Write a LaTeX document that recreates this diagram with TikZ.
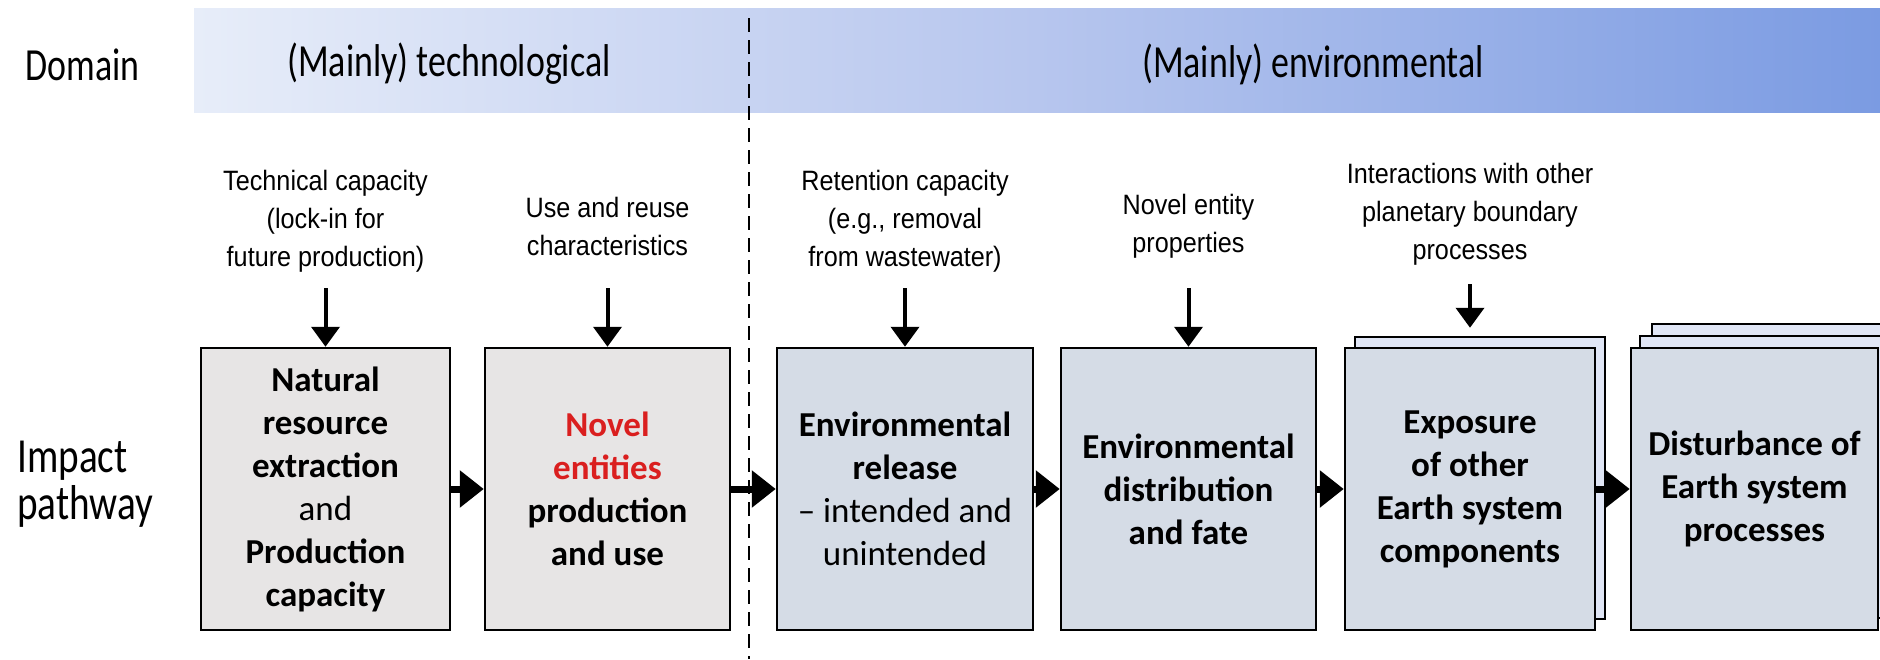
\documentclass[tikz,border=0pt]{standalone}
\usepackage{fontspec}
\setmainfont{Carlito}
\newfontfamily\domfont[FakeStretch=0.78]{Carlito}
\newfontfamily\impfont[FakeStretch=0.80]{Carlito}
\newfontfamily\lblfont[FakeStretch=0.9]{Liberation Sans}
\usetikzlibrary{arrows.meta}
\definecolor{grayfill}{HTML}{E7E5E5}
\definecolor{bluefill}{HTML}{D5DCE6}
\definecolor{backfill}{HTML}{E0E6F6}
\definecolor{bandL}{HTML}{E7EDF9}
\definecolor{bandM}{HTML}{B7C6EE}
\definecolor{bandR}{HTML}{7B9BE2}
\definecolor{novelred}{HTML}{DA1F1F}
\begin{document}
\begin{tikzpicture}[x=0.5pt,y=-0.5pt,
  box/.style={draw=black, line width=1.25pt, minimum height=141pt, inner sep=0pt, align=center,
    font=\bfseries\fontsize{17.5}{21.5}\selectfont},
  graybox/.style={box, fill=grayfill},
  bluebox/.style={box, fill=bluefill},
  backbox/.style={box, fill=backfill},
  domlbl/.style={inner sep=0pt, font=\domfont\fontsize{23}{23.5}\selectfont},
  implbl/.style={inner sep=0pt, font=\impfont\fontsize{24.5}{23.5}\selectfont},
  lbl/.style={inner sep=0pt, align=center, font=\lblfont\fontsize{14}{19}\selectfont},
  downarrow/.style={line width=2pt, -{Triangle[length=10pt,width=14pt]}},
  harrow/.style={line width=3.5pt, -{Triangle[length=12pt,width=18pt]}},
  divider/.style={line width=1.2pt, dash pattern=on 7pt off 4pt}
]
\useasboundingbox (0,0) rectangle (1880,659);
\clip (0,0) rectangle (1880,659);
\fill[left color=bandL, right color=bandR, middle color=bandM] (194,8) rectangle (1880,112);
\coordinate (dtop) at (749,18);
\coordinate (dbot) at (749,659);
\draw[divider] (dtop) -- (dbot);

\node[domlbl, anchor=west] (domain) at (25,65) {Domain};
\node[domlbl] (tech) at (449,64) {(Mainly) technological};
\node[domlbl] (env) at (1313,64) {(Mainly) environmental};
\node[implbl, anchor=west, align=left] (impact) at (17,484) {Impact\\pathway};

% boxes
\node[graybox, minimum width=124.5pt] (b1) at (325.5,489) {Natural\\resource\\extraction\\\mdseries and\\Production\\capacity};
\node[graybox, minimum width=122.5pt] (b2) at (607.5,489) {\textcolor{novelred}{Novel}\\\textcolor{novelred}{entities}\\production\\and use};
\node[bluebox, minimum width=128pt] (b3) at (905,489) {Environmental\\release\\\mdseries -- intended and\\\mdseries unintended};
\node[bluebox, minimum width=127.5pt] (b4) at (1188.5,489) {Environmental\\distribution\\and fate};
\node[backbox, minimum width=125pt] (b5back) at (1480,478) {};
\node[bluebox, minimum width=125pt] (b5) at (1470,489) {Exposure\\of other\\Earth system\\components};
\node[backbox, minimum width=123.5pt] (b6backb) at (1775.5,465) {};
\node[backbox, minimum width=123.5pt] (b6backa) at (1763.5,477) {};
\node[bluebox, minimum width=123.5pt] (b6) at (1754.5,489) {Disturbance of\\Earth system\\processes};

% top labels
\node[lbl] (l1) at (325.5,221) {Technical capacity\\(lock-in for\\future production)};
\node[lbl] (l2) at (607.5,226) {Use and reuse\\characteristics};
\node[lbl] (l3) at (905,221) {Retention capacity\\(e.g., removal\\from wastewater)};
\node[lbl] (l4) at (1188.5,226) {Novel entity\\properties};
\node[lbl] (l5) at (1470,214) {Interactions with other\\planetary boundary\\processes};

\coordinate (a1) at (325.5,288);
\coordinate (a2) at (607.5,288);
\coordinate (a3) at (905,288);
\coordinate (a4) at (1188.5,288);
\coordinate (a5) at (1470,284);
\draw[downarrow] (a1) -- (b1.north);
\draw[downarrow] (a2) -- (b2.north);
\draw[downarrow] (a3) -- (b3.north);
\draw[downarrow] (a4) -- (b4.north);
\draw[downarrow, shorten >=4pt] (a5) -- (b5.north |- b5back.north);

\draw[harrow] (b1.east) -- (b2.west);
\draw[harrow] (b2.east) -- (b3.west);
\draw[harrow] (b3.east) -- (b4.west);
\draw[harrow] (b4.east) -- (b5.west);
\draw[harrow] (b5.east) -- (b6.west);
\end{tikzpicture}
\end{document}
